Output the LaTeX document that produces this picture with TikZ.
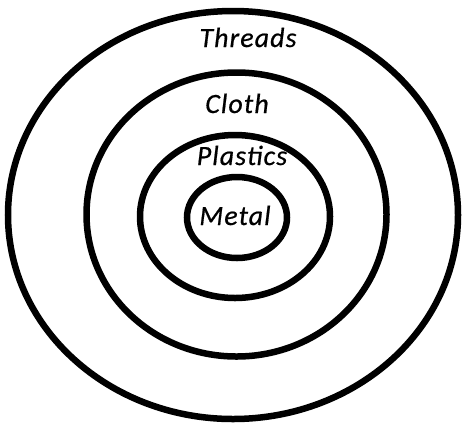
\documentclass[tikz,border=0pt]{standalone}
\usepackage{fontspec}
\setmainfont{Carlito}
\newfontfamily\ringfont[LetterSpace=4,FakeBold=0.6]{Carlito}
\usepackage{tikz}

\begin{document}
\begin{tikzpicture}[x=1bp,y=-1bp,line width=6.5bp]
    \useasboundingbox (0,0) rectangle (462,426);
    \tikzset{ring/.style={draw=black},
      lbl/.style={anchor=base,inner sep=0pt,font=\ringfont\fontsize{28}{32}\selectfont\itshape}}
    \draw[ring] (233,215) ellipse [x radius=225,y radius=204];
    \draw[ring] (236.5,214.5) ellipse [x radius=150,y radius=142];
    \draw[ring] (235,216.5) ellipse [x radius=95,y radius=81.5];
    \draw[ring] (237,217.5) ellipse [x radius=50,y radius=40.5];
    \node[lbl] (threads) at (248,47) {Threads};
    \node[lbl] (cloth) at (237,113) {Cloth};
    \node[lbl] (plastics) at (242,165) {Plastics};
    \node[lbl] (metal) at (235,225) {Metal};
\end{tikzpicture}
\end{document}
